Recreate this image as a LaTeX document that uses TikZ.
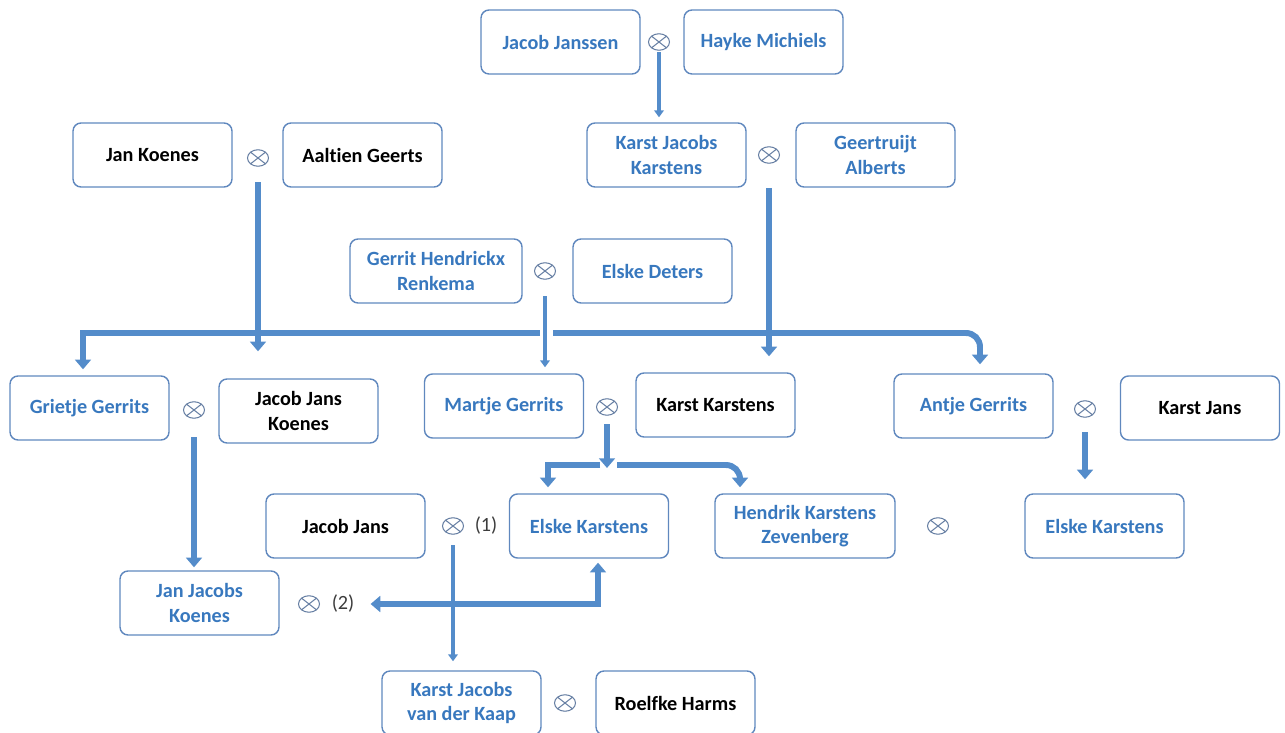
\documentclass[tikz,border=0pt]{standalone}
\usepackage{fontspec}
\setmainfont{Carlito}[Ligatures={CommonOff,ContextualOff}]
\usetikzlibrary{arrows.meta,calc,shapes.geometric}
\definecolor{rand}{RGB}{96,136,190}
\definecolor{naamblauw}{RGB}{56,120,190}
\definecolor{pijlkleur}{RGB}{84,140,202}
\definecolor{tekengrijs}{RGB}{104,128,164}
\definecolor{tekstgrijs}{RGB}{60,60,60}

\tikzset{
  persoon/.style={draw=rand, line width=0.8pt, rounded corners=0.16cm,
    minimum width=3.18cm, minimum height=1.28cm, align=center, inner sep=2pt,
    font=\bfseries\fontsize{11.5}{14}\selectfont},
  blauw/.style={text=naamblauw},
  huw/.style={ellipse, draw=tekengrijs, line width=0.6pt, minimum width=0.42cm,
    minimum height=0.33cm, inner sep=0pt,
    path picture={\draw[tekengrijs,line width=0.6pt]
      (path picture bounding box.north west) -- (path picture bounding box.south east)
      (path picture bounding box.north east) -- (path picture bounding box.south west);}},
  nummer/.style={font=\fontsize{11.5}{14}\selectfont, text=tekstgrijs, inner sep=0pt},
  pijl/.style={draw=pijlkleur, line width=3.4pt, -{Triangle[width=9pt,length=5.5pt]}},
  dunpijl/.style={draw=pijlkleur, line width=1.8pt, -{Triangle[width=5.5pt,length=4pt]}}
}

\begin{document}
\begin{tikzpicture}[x=0.02cm,y=-0.02cm]
  \useasboundingbox (0,0) rectangle (1285,733);

  % generatie 1
  \node[persoon,blauw] (jjanssen) at (560.5,42) {Jacob Janssen};
  \node[persoon,blauw] (hayke) at (763.5,42) {Hayke Michiels};
  \node[huw] (h1) at (659,42) {};

  % generatie 2
  \node[persoon] (jkoenes) at (152.5,155) {Jan Koenes};
  \node[persoon] (aaltien) at (362.5,155) {Aaltien Geerts};
  \node[huw] (h2) at (258,158) {};
  \node[persoon,blauw] (kjkarstens) at (666.5,155) {Karst Jacobs\\Karstens};
  \node[persoon,blauw] (geertruijt) at (875.5,155) {Geertruijt\\Alberts};
  \node[huw] (h3) at (769,155) {};
  \node[persoon,blauw,minimum width=3.44cm] (gerrit) at (436,271) {Gerrit Hendrickx\\Renkema};
  \node[persoon,blauw] (edeters) at (652.5,271) {Elske Deters};
  \node[huw] (h4) at (545,271) {};

  % generatie 3
  \node[persoon,blauw] (grietje) at (89.5,408) {Grietje Gerrits};
  \node[persoon] (jjkoenes) at (298.5,411) {Jacob Jans\\Koenes};
  \node[huw] (h5) at (194,410) {};
  \node[persoon,blauw] (martje) at (504,406) {Martje Gerrits};
  \node[persoon] (kkarstens) at (715.5,405) {Karst Karstens};
  \node[huw] (h6) at (607,407) {};
  \node[persoon,blauw] (antje) at (973.5,406) {Antje Gerrits};
  \node[persoon] (kjans) at (1200,408) {Karst Jans};
  \node[huw] (h7) at (1085,409) {};

  % generatie 4
  \node[persoon] (jjans) at (345.5,526) {Jacob Jans};
  \node[huw] (h8) at (453,526) {};
  \node[nummer] (nr1) at (486,526) {(1)};
  \node[persoon,blauw] (ekarstens) at (589,526) {Elske Karstens};
  \node[persoon,blauw,minimum width=3.6cm] (hendrik) at (805,526) {Hendrik Karstens\\Zevenberg};
  \node[huw] (h9) at (938,526) {};
  \node[persoon,blauw] (ekarstens2) at (1104.5,526) {Elske Karstens};
  \node[persoon,blauw] (jjackoenes) at (199.5,603) {Jan Jacobs\\Koenes};
  \node[huw] (h10) at (309,604) {};
  \node[nummer] (nr2) at (343,604) {(2)};

  % generatie 5
  \node[persoon,blauw] (kjvdkaap) at (461.5,703) {Karst Jacobs\\van der Kaap};
  \node[persoon] (roelfke) at (675.5,703) {Roelfke Harms};
  \node[huw] (h11) at (565,703) {};

  % kinderen van Gerrit en Elske
  \coordinate (railL) at ($(h4)+(-5,62)$);
  \coordinate (railR) at ($(h4)+(8,62)$);
  \draw[pijl,shorten >=0.12cm] (railL) -| ($(grietje.north)+(-6.5,0)$);
  \draw[pijl,rounded corners=0.28cm,shorten >=0.18cm] (railR) -| ($(antje.north)+(6.5,0)$);

  % kinderen van Martje en Karst
  \coordinate (mpunt) at ($(h6)+(0,61)$);
  \coordinate (mL) at ($(h6)+(-7,58)$);
  \coordinate (mR) at ($(h6)+(10,58)$);
  \draw[pijl,shorten >=0.12cm] (mL) -| ($(ekarstens.north)+(-41,0)$);
  \draw[pijl,rounded corners=0.28cm,shorten >=0.12cm] (mR) -| ($(hendrik.north)+(-65,0)$);
  \draw[pijl,shorten <=0.17cm] (h6.south) -- (mpunt);

  % tweede huwelijk
  \draw[pijl,{Triangle[width=9pt,length=5.5pt]}-{Triangle[width=9pt,length=5.5pt]},
    shorten <=0.08cm,shorten >=0.32cm] ($(ekarstens.south)+(9,0)$) |- (nr2.east);

  % verticale lijnen
  \draw[dunpijl,shorten <=0.03cm,shorten >=0.1cm] (h1.south) -- (h1.south |- kjkarstens.north);
  \draw[pijl,shorten <=0.31cm,shorten >=0.54cm] (h2.south) -- (h2.south |- jjkoenes.north);
  \draw[pijl,shorten <=0.49cm,shorten >=0.32cm] (h3.south) -- (h3.south |- kkarstens.north);
  \draw[dunpijl,shorten <=0.33cm,shorten >=0.12cm] (h4.south) -- (h4.south |- martje.north);
  \draw[pijl,shorten <=0.37cm,shorten >=0.06cm] (h5.south) -- (h5.south |- jjackoenes.north);
  \draw[pijl,shorten <=0.29cm,shorten >=0.28cm] (h7.south) -- (h7.south |- ekarstens2.north);
  \draw[dunpijl,shorten <=0.21cm,shorten >=0.18cm] (h8.south) -- (h8.south |- kjvdkaap.north);
\end{tikzpicture}
\end{document}
